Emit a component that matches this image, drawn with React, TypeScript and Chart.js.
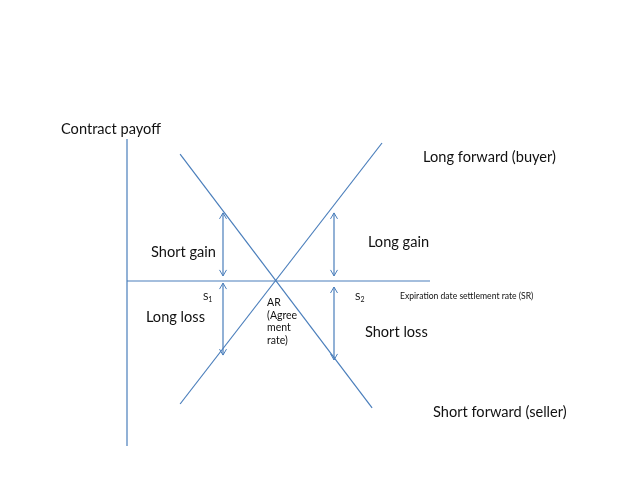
import React, { useEffect, useRef } from "react";
import { Chart, registerables } from "chart.js";

Chart.register(...registerables);

// Data space: x = expiration settlement rate (SR), y = contract payoff
const AR = 4.97;
const S1 = 3.2;
const S2 = 6.9;
const axisXMax = 10.1;
const axisYTop = 4.73;
const axisYBottom = -5.5;

const longForwardX = [1.77, 8.5];
const longForwardY = [-4.1, 4.6];
const shortForwardX = [1.77, 8.17];
const shortForwardY = [4.23, -4.23];

// arrows: [x, yFrom, yTo]
const arrowX = [S1, S1, S2, S2];
const arrowYStart = [0.17, -0.07, 0.17, -0.2];
const arrowYEnd = [2.27, -2.47, 2.27, -2.63];

const labelTexts = [
  "Contract payoff",
  "Long forward (buyer)",
  "Short gain",
  "Long gain",
  "Long loss",
  "Short loss",
  "Short forward (seller)",
];

const BLUE = "#4a7ebb";
const FONT = "Lato, 'Open Sans', sans-serif";

export default function App() {
  const ref = useRef<HTMLCanvasElement | null>(null);

  useEffect(() => {
    if (!ref.current) return;

    const labelPlacement: [number, number][] = [
      [-2.2, 4.9],
      [9.87, 3.97],
      [0.8, 0.8],
      [8.03, 1.13],
      [0.63, -1.37],
      [7.93, -1.87],
      [10.2, -4.53],
    ];

    const textPlugin = {
      id: "texts",
      afterDatasetsDraw(chart: any) {
        const { ctx, scales } = chart;
        const xs = scales.x;
        const ys = scales.y;
        const px = (v: number) => xs.getPixelForValue(v);
        const py = (v: number) => ys.getPixelForValue(v);
        ctx.save();
        // arrowheads
        ctx.strokeStyle = BLUE;
        ctx.lineWidth = 1;
        for (let i = 0; i < arrowX.length; i++) {
          const x = px(arrowX[i]);
          for (const v of [arrowYStart[i], arrowYEnd[i]]) {
            const y = py(v);
            const dir = v === arrowYEnd[i] ? (arrowYEnd[i] > arrowYStart[i] ? 1 : -1) : arrowYStart[i] > arrowYEnd[i] ? 1 : -1;
            ctx.beginPath();
            ctx.moveTo(x - 3.5, y + dir * 6);
            ctx.lineTo(x, y);
            ctx.lineTo(x + 3.5, y + dir * 6);
            ctx.stroke();
          }
        }
        ctx.fillStyle = "#111";
        ctx.textAlign = "left";
        ctx.textBaseline = "alphabetic";
        ctx.font = `14.6px ${FONT}`;
        labelTexts.forEach((t, i) => {
          const [lx, ly] = labelPlacement[i];
          ctx.fillText(t, px(lx), py(ly));
        });
        const sub = (name: string, idx: string, lx: number, ly: number) => {
          ctx.font = `10px ${FONT}`;
          ctx.fillText(name, px(lx), py(ly));
          const w = ctx.measureText(name).width;
          ctx.font = `7px ${FONT}`;
          ctx.fillText(idx, px(lx) + w, py(ly) + 2);
        };
        sub("S", "1", 2.53, -0.63);
        sub("S", "2", 7.6, -0.63);
        ctx.font = `10.5px ${FONT}`;
        const arLines = ["AR", "(Agree", "ment", "rate)"];
        arLines.forEach((t, i) => {
          ctx.fillText(t, px(4.67), py(-0.83) + i * 12.7);
        });
        ctx.font = `8.6px ${FONT}`;
        ctx.fillText("Expiration date settlement rate (SR)", px(9.1), py(-0.6));
        ctx.restore();
      },
    };

    const lineDs = (xs: number[], ys: number[]) => ({
      data: xs.map((x, i) => ({ x, y: ys[i] })),
      borderColor: BLUE,
      borderWidth: 1.2,
      pointRadius: 0,
      fill: false,
      tension: 0,
    });

    const datasets: any[] = [
      lineDs([0, 0], [axisYTop, axisYBottom]),
      lineDs([0, axisXMax], [0, 0]),
      lineDs(longForwardX, longForwardY),
      lineDs(shortForwardX, shortForwardY),
    ];
    for (let i = 0; i < arrowX.length; i++) {
      datasets.push(lineDs([arrowX[i], arrowX[i]], [arrowYStart[i], arrowYEnd[i]]));
    }
    datasets.push({ data: [{ x: AR, y: 0 }], pointRadius: 0, borderWidth: 0 });

    const chart = new Chart(ref.current, {
      type: "line",
      data: { datasets },
      options: {
        animation: false,
        responsive: false,
        devicePixelRatio: 1,
        layout: { padding: 0 },
        plugins: { legend: { display: false }, tooltip: { enabled: false } },
        scales: {
          x: { type: "linear", min: -127 / 30, max: 511 / 30, display: false },
          y: { type: "linear", min: -198 / 30, max: 281 / 30, display: false },
        },
      },
      plugins: [textPlugin],
    });
    return () => chart.destroy();
  }, []);

  return (
    <div style={{ position: "absolute", left: 0, top: 0, width: 638, height: 479, background: "#fff" }}>
      <canvas ref={ref} width={638} height={479} style={{ width: 638, height: 479, display: "block" }} />
    </div>
  );
}
